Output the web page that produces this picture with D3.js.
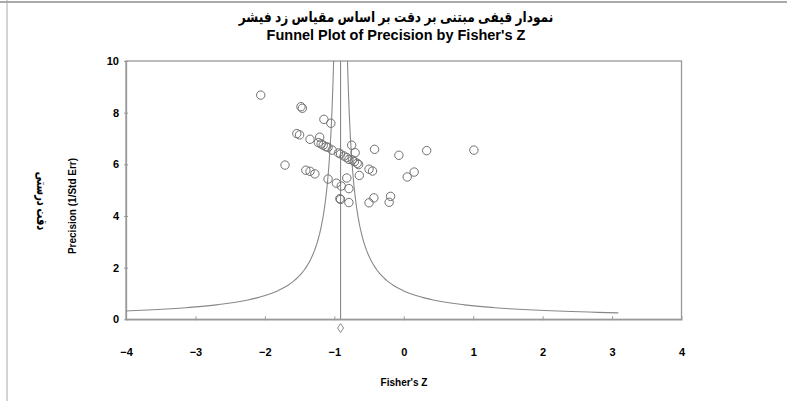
<!DOCTYPE html>
<html><head><meta charset="utf-8">
<script src="https://cdn.jsdelivr.net/npm/d3@7"></script>
<style>
html,body{margin:0;padding:0;background:#fff;}
svg{display:block;}
text{font-family:"Liberation Sans",Arial,"DejaVu Sans",sans-serif;font-weight:bold;fill:#000;}
</style></head><body>
<svg id="c" width="787" height="401"></svg>
<script>
// Study effect sizes (Fisher's Z) and precision (1/SE)
const fisherZ = [-2.06,-1.48,-1.46,-1.15,-1.05,-1.54,-1.50,-1.35,-1.21,
  -1.23,-1.19,-1.16,-1.12,-1.09,-1.03,-0.94,-0.91,-0.86,-0.82,-0.79,-0.74,-0.71,-0.67,-0.65,
  -0.75,-0.70,-0.42,-0.07,0.33,1.01,-1.71,-1.41,-1.35,-1.28,-1.09,-0.97,-0.90,-0.82,-0.79,
  -0.64,-0.50,-0.45,0.05,0.15,-0.92,-0.91,-0.79,-0.50,-0.43,-0.21,-0.19];
const precision = [8.68,8.23,8.17,7.74,7.59,7.19,7.14,6.97,7.05,
  6.84,6.79,6.74,6.68,6.66,6.55,6.44,6.40,6.32,6.26,6.19,6.17,6.10,6.04,5.99,
  6.74,6.45,6.58,6.35,6.53,6.55,5.97,5.77,5.73,5.63,5.43,5.27,5.16,5.47,5.06,
  5.57,5.81,5.74,5.51,5.70,4.67,4.64,4.52,4.51,4.70,4.53,4.76];
const combinedZ = -0.91;
const combinedPrecision = -0.3;
const xTicks = [-4,-3,-2,-1,0,1,2,3,4];
const yTicks = [0,2,4,6,8,10];
const titleFa = "نمودار قیفی مبتنی بر دقت بر اساس مقیاس زد فیشر";
const titleEn = "Funnel Plot of Precision by Fisher's Z";
const xLabel = "Fisher's Z";
const yLabelEn = "Precision (1/Std Err)";
const yLabelFa = "دقت درستی";

const svg = d3.select("#c");
const L=126, R=681.5, T=61, B=319.3;
const x = d3.scaleLinear().domain([-4,4]).range([L,R]);
const y = d3.scaleLinear().domain([0,10]).range([B,T]);

// page frame lines
svg.append("line").attr("x1",0).attr("x2",787).attr("y1",2).attr("y2",2).attr("stroke","#aaa").attr("stroke-width",2);
svg.append("line").attr("x1",7).attr("x2",7).attr("y1",0).attr("y2",401).attr("stroke","#aaa").attr("stroke-width",1);

// plot frame
svg.append("rect").attr("x",L).attr("y",T).attr("width",R-L).attr("height",B-T)
  .attr("fill","none").attr("stroke","#999").attr("stroke-width",1.3);

// axes
const xAxis = d3.axisBottom(x).tickValues(xTicks).tickSize(0).tickPadding(29).tickFormat(d3.format("d"));
const gx = svg.append("g").attr("transform",`translate(0,${B})`).call(xAxis);
gx.select(".domain").attr("stroke","#999").attr("stroke-width",1.3);
gx.selectAll("text").attr("font-size",11).attr("font-weight","bold");
gx.selectAll(".tick").append("line").attr("y1",-3).attr("y2",1).attr("stroke","#999");

const yAxis = d3.axisLeft(y).tickValues(yTicks).tickSize(0).tickPadding(7);
const gy = svg.append("g").attr("transform",`translate(${L},0)`).call(yAxis);
gy.select(".domain").attr("stroke","#999").attr("stroke-width",1.3);
gy.selectAll("text").attr("font-size",11).attr("font-weight","bold");
gy.selectAll(".tick").append("line").attr("x1",-2).attr("x2",2).attr("stroke","#999");

// funnel
svg.append("clipPath").attr("id","pc").append("rect").attr("x",L).attr("y",T).attr("width",R-L).attr("height",B-T);
const pGrid = d3.range(0.25, 10.001, 0.01);
const line = d3.line().x(d=>x(d[0])).y(d=>y(d[1]));
const fg = svg.append("g").attr("clip-path","url(#pc)");
fg.append("path").datum(pGrid.map(p=>[combinedZ-1/p,p])).attr("d",line).attr("fill","none").attr("stroke","#888").attr("stroke-width",1.1);
fg.append("path").datum(pGrid.map(p=>[combinedZ+1/p,p])).attr("d",line).attr("fill","none").attr("stroke","#888").attr("stroke-width",1.1);
fg.append("line").attr("x1",x(combinedZ)).attr("x2",x(combinedZ)).attr("y1",y(0)).attr("y2",y(10)).attr("stroke","#888").attr("stroke-width",1.1);

// points
svg.append("g").selectAll("circle").data(fisherZ.map((d,i)=>[d,precision[i]])).join("circle")
  .attr("cx",d=>x(d[0])).attr("cy",d=>y(d[1])).attr("r",4.2)
  .attr("fill","none").attr("stroke","#707070").attr("stroke-width",1);

// combined diamond
const cx0=x(combinedZ), cy0=y(combinedPrecision)+1;
svg.append("path").attr("d",`M${cx0},${cy0-4.5}L${cx0+3},${cy0}L${cx0},${cy0+4.5}L${cx0-3},${cy0}Z`)
  .attr("fill","none").attr("stroke","#888").attr("stroke-width",1);

// titles
svg.append("text").attr("transform","translate(396,22) scale(0.84,1)").attr("text-anchor","middle").attr("font-size",14.5).attr("direction","rtl").text(titleFa);
svg.append("text").attr("x",396).attr("y",40).attr("text-anchor","middle").attr("font-size",14.5).text(titleEn);
svg.append("text").attr("x",404).attr("y",386).attr("text-anchor","middle").attr("font-size",10).text(xLabel);
svg.append("text").attr("transform","translate(76,206) rotate(-90)").attr("text-anchor","middle").attr("font-size",10).text(yLabelEn);
svg.append("text").attr("transform","translate(37,201) rotate(90) scale(0.7,1)").attr("text-anchor","middle").attr("font-size",14).attr("direction","rtl").text(yLabelFa);
</script></body></html>
